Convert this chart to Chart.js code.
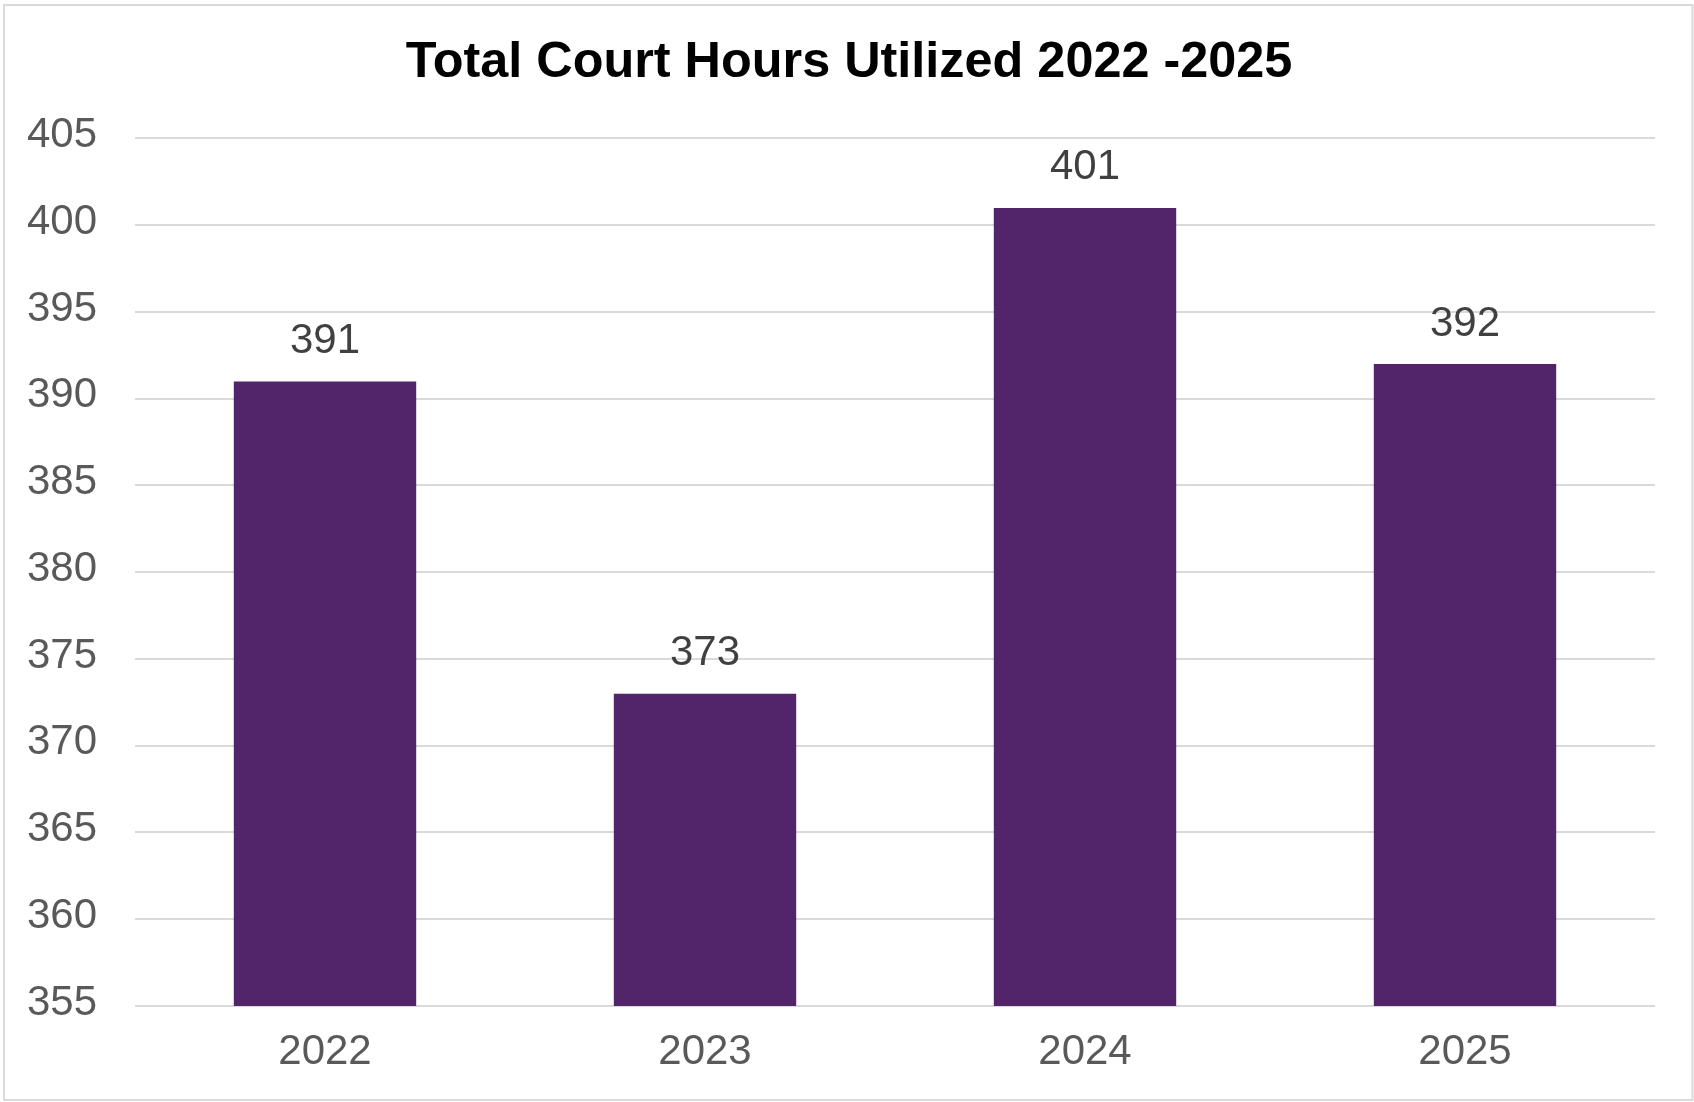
<!DOCTYPE html>
<html>
<head>
<meta charset="utf-8">
<title>Total Court Hours Utilized 2022 -2025</title>
<script src="https://cdn.jsdelivr.net/npm/chart.js@4/dist/chart.umd.min.js"></script>
<style>
  html, body { margin: 0; padding: 0; background: #ffffff; }
  #wrap { width: 1694px; height: 1102px; }
</style>
</head>
<body>
<div id="wrap"><canvas id="chart" width="1694" height="1102"></canvas></div>
<script>
// Chart data
const chartTitle = 'Total Court Hours Utilized 2022 -2025';
const years = ['2022', '2023', '2024', '2025'];
const courtHours = [391, 373, 401, 392];
const yAxisMin = 355;
const yAxisMax = 405;
const yAxisStep = 5;

const FONT = "'Liberation Sans', Arial, sans-serif";

// Outer frame and white background
const framePlugin = {
  id: 'frame',
  beforeDraw(chart) {
    const ctx = chart.ctx;
    ctx.save();
    ctx.fillStyle = '#ffffff';
    ctx.fillRect(0, 0, chart.width, chart.height);
    ctx.strokeStyle = '#d9d9d9';
    ctx.lineWidth = 2;
    ctx.strokeRect(4, 5, chart.width - 5.5, chart.height - 7);
    ctx.restore();
  }
};

// Centre the title across the whole canvas rather than the padded box
const titleSpanPlugin = {
  id: 'titleSpan',
  afterLayout(chart) {
    const t = chart.titleBlock;
    if (t) {
      t.left = 0;
      t.right = chart.width + 4;
      t.width = t.right - t.left;
    }
  }
};

// Value labels above each bar
const valueLabelPlugin = {
  id: 'valueLabels',
  afterDatasetsDraw(chart) {
    const ctx = chart.ctx;
    const meta = chart.getDatasetMeta(0);
    const values = chart.data.datasets[0].data;
    ctx.save();
    ctx.font = '42px ' + FONT;
    ctx.fillStyle = '#404040';
    ctx.textAlign = 'center';
    ctx.textBaseline = 'middle';
    meta.data.forEach((bar, i) => {
      ctx.fillText(String(values[i]), bar.x, bar.y - 40);
    });
    ctx.restore();
  }
};

new Chart(document.getElementById('chart'), {
  type: 'bar',
  data: {
    labels: years,
    datasets: [{
      data: courtHours,
      backgroundColor: '#52256b',
      borderWidth: 0,
      barPercentage: 0.48,
      categoryPercentage: 1.0
    }]
  },
  options: {
    responsive: false,
    devicePixelRatio: 1,
    animation: false,
    layout: { padding: { left: 0, right: 39, top: 0, bottom: 0 } },
    plugins: {
      legend: { display: false },
      tooltip: { enabled: false },
      title: {
        display: true,
        text: chartTitle,
        color: '#000000',
        font: { family: FONT, size: 50.4, weight: 'bold', lineHeight: 1.2 },
        padding: { top: 33, bottom: 45 }
      }
    },
    scales: {
      x: {
        grid: { display: false },
        border: { display: false },
        ticks: {
          color: '#595959',
          font: { family: FONT, size: 42 },
          padding: 13
        },
        afterFit(scale) { scale.height = 96; }
      },
      y: {
        min: yAxisMin,
        max: yAxisMax,
        border: { display: false },
        grid: { color: '#d9d9d9', lineWidth: 2, drawTicks: false },
        ticks: {
          stepSize: yAxisStep,
          color: '#595959',
          font: { family: FONT, size: 42 },
          padding: 38,
          labelOffset: -3
        },
        afterFit(scale) { scale.width = 135; }
      }
    }
  },
  plugins: [framePlugin, titleSpanPlugin, valueLabelPlugin]
});
</script>
</body>
</html>
